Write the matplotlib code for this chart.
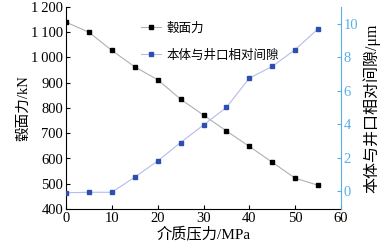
import matplotlib.pyplot as plt
from matplotlib.lines import Line2D

plt.rcParams['font.family'] = ['Liberation Serif', 'Noto Sans CJK SC']

pressure = [0, 5, 10, 15, 20, 25, 30, 35, 40, 45, 50, 55]
hub_force = [1140, 1100, 1028, 963, 912, 835, 772, 709, 648, 585, 522, 494]
gap = [-0.1, -0.07, -0.07, 0.83, 1.8, 2.9, 3.95, 5.0, 6.75, 7.45, 8.45, 9.7]

blue_axis = '#5aaee8'

fig = plt.figure(figsize=(3.8, 2.45), dpi=100)
ax = fig.add_axes([66 / 380, 1 - 209 / 245, 275 / 380, 202 / 245])
ax2 = ax.twinx()

ax.plot(pressure, hub_force, color='#b0b0b0', lw=0.8, marker='s', ms=3.2,
        mfc='black', mec='black', zorder=3)
ax2.plot(pressure, gap, color='#b4bcec', lw=0.8, marker='s', ms=3.2,
         mfc='#2c4fb0', mec='#2c4fb0', zorder=3)

ax.set_xlim(0, 60)
ax.set_ylim(400, 1200)
ax2.set_ylim(-1.07, 11.0)
ax.set_xticks(range(0, 61, 10))
ax.set_yticks(range(400, 1201, 100))
ax.set_yticklabels(['400', '500', '600', '700', '800', '900', '1\u2009000', '1\u2009100', '1\u2009200'])
ax2.set_yticks(range(0, 11, 2))

for a in (ax, ax2):
    a.spines['top'].set_visible(False)
ax.spines['right'].set_visible(False)
ax2.spines['left'].set_visible(False)
ax2.spines['bottom'].set_visible(False)
ax2.spines['right'].set_color(blue_axis)

ax.tick_params(axis='both', direction='in', length=3, labelsize=10.5, pad=2)
ax2.tick_params(axis='y', direction='in', length=3, labelsize=10.5, pad=2,
                colors=blue_axis)

ax.set_xlabel('介质压力/MPa', fontsize=11, labelpad=1)
ax.set_ylabel('毂面力/kN', fontsize=10.5, labelpad=1)
ax2.set_ylabel('本体与井口相对间隙/\u03bcm', fontsize=11.5, labelpad=3, color='black')

handles = [
    Line2D([], [], color='#b0b0b0', lw=0.8, marker='s', ms=3.2, mfc='black', mec='black'),
    Line2D([], [], color='#b4bcec', lw=0.8, marker='s', ms=3.2, mfc='#2c4fb0', mec='#2c4fb0'),
]
ax.legend(handles, ['毂面力', '本体与井口相对间隙'], loc='upper left',
          bbox_to_anchor=(0.23, 0.98), frameon=False, fontsize=9,
          handlelength=1.6, labelspacing=1.2, handletextpad=0.5)

fig.savefig('out.png', dpi=100)
